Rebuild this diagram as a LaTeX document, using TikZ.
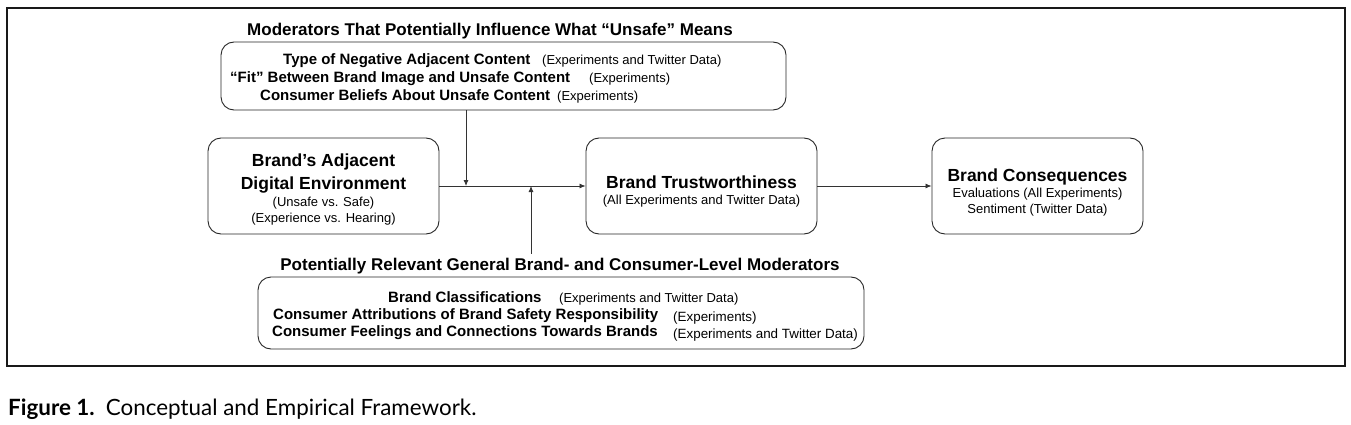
\documentclass[tikz,border=0pt]{standalone}
\usepackage{fontspec}
\setmainfont{Liberation Sans}
\newfontfamily\capfont{Lato}
\usetikzlibrary{arrows.meta,positioning}

\tikzset{
  caixa/.style={draw=black!85, line width=0.9pt, rounded corners=13pt, align=center},
  titulo/.style={inner sep=0pt, font=\fontsize{17}{20}\selectfont\bfseries},
  item/.style={anchor=base west, inner sep=0pt, font=\fontsize{15}{18}\selectfont\bfseries},
  fonte/.style={anchor=base west, inner sep=0pt, font=\fontsize{13}{16}\selectfont},
  seta/.style={draw=black!80, line width=0.8pt, -{Latex[length=6pt,width=5pt]}},
}
\newcommand{\boxtit}[1]{{\fontsize{17.5}{21}\selectfont\bfseries #1}}

\begin{document}
\begin{tikzpicture}[x=1pt,y=-1pt]
\useasboundingbox (0,0) rectangle (1351,425);

% moldura
\draw[line width=1.3pt, black!90] (7,8) rectangle (1345,366);

% caixas principais
\node[caixa, minimum width=231pt, minimum height=96pt,
  font=\fontsize{13}{16}\selectfont] (env) at (323.5,186)
  {\rule{0pt}{20pt}\boxtit{Brand’s Adjacent}\\[6pt] \boxtit{Digital Environment}\\[1pt]
   (Unsafe vs. Safe)\\ (Experience vs. Hearing)};
\node[caixa, minimum width=231pt, minimum height=96pt,
  font=\fontsize{13}{16}\selectfont] (trust) at (701.5,186)
  {\rule{0pt}{24pt}\boxtit{Brand Trustworthiness}\\ (All Experiments and Twitter Data)};
\node[caixa, minimum width=211pt, minimum height=96pt,
  font=\fontsize{13}{16}\selectfont] (cons) at (1037.5,186)
  {\rule{0pt}{26pt}\boxtit{Brand Consequences}\\ Evaluations (All Experiments)\\
   Sentiment (Twitter Data)};

% moderadores de cima
\node[titulo] (modtit) at (490,31)
  {Moderators That Potentially Influence What “Unsafe” Means};
\node[caixa, minimum width=565pt, minimum height=68pt] (mods) at (503.5,76) {};
\node[item] (m1) at (283,65) {Type of Negative Adjacent Content};
\node[fonte] (m1f) at (542,65) {(Experiments and Twitter Data)};
\node[item] (m2) at (230,83) {“Fit” Between Brand Image and Unsafe Content};
\node[fonte] (m2f) at (589,83) {(Experiments)};
\node[item] (m3) at (260,101) {Consumer Beliefs About Unsafe Content};
\node[fonte] (m3f) at (557,101) {(Experiments)};

% moderadores de baixo
\node[titulo] (gentit) at (560,266)
  {Potentially Relevant General Brand- and Consumer-Level Moderators};
\node[caixa, minimum width=606pt, minimum height=72pt] (gens) at (561,313) {};
\node[item] (g1) at (388,302) {Brand Classifications};
\node[fonte] (g1f) at (559,302) {(Experiments and Twitter Data)};
\node[item] (g2) at (273,319) {Consumer Attributions of Brand Safety Responsibility};
\node[fonte, font=\fontsize{13.4}{16}\selectfont] (g2f) at (673,321) {(Experiments)};
\node[item] (g3) at (272,336) {Consumer Feelings and Connections Towards Brands};
\node[fonte, font=\fontsize{13.4}{16}\selectfont] (g3f) at (673,338) {(Experiments and Twitter Data)};

% setas
\coordinate (dn) at (466,186);
\coordinate (up) at (531,186);
\draw[seta] (env.east) -- (trust.west);
\draw[seta] (trust.east) -- (cons.west);
\draw[seta] (mods.south -| dn) -- (dn);
\draw[seta] ([yshift=4pt]gentit.north -| up) -- (up);

% legenda
\node[anchor=base west, inner sep=0pt, font=\capfont\fontsize{22.4}{26}\selectfont]
  (legenda) at (8,415) {\textbf{Figure 1.}\enspace Conceptual and Empirical Framework.};

\end{tikzpicture}
\end{document}
